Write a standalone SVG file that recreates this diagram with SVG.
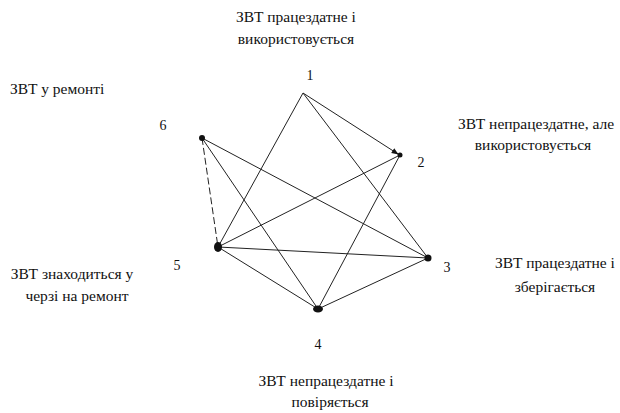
<svg xmlns="http://www.w3.org/2000/svg" width="620" height="413" viewBox="0 0 620 413">
<style>
text{font-family:"Liberation Serif","DejaVu Serif",serif;font-size:15.5px;fill:#111}
.n{font-size:14px}
.e{stroke:#222;stroke-width:1;fill:none}
.d{fill:#111}
</style>
<defs>
<marker id="ah" viewBox="0 0 10 10" refX="9" refY="5" markerWidth="7" markerHeight="7" orient="auto"><path d="M0,1 L10,5 L0,9 Z" fill="#111"/></marker>
</defs>
<rect width="620" height="413" fill="#fff"/>
<g id="connectors">
<line class="e" x1="303" y1="93" x2="398" y2="154" marker-end="url(#ah)"/>
<line class="e" x1="303" y1="93" x2="428" y2="258"/>
<line class="e" x1="303" y1="93" x2="218" y2="247"/>
<line class="e" x1="400" y1="155" x2="218" y2="247"/>
<line class="e" x1="400" y1="155" x2="318" y2="309"/>
<line class="e" x1="202" y1="138" x2="428" y2="258"/>
<line class="e" x1="202" y1="138" x2="318" y2="309"/>
<line class="e" x1="202" y1="138" x2="218" y2="247" stroke-dasharray="7,3"/>
<line class="e" x1="218" y1="247" x2="428" y2="258" stroke-width="1.6"/>
<line class="e" x1="218" y1="247" x2="318" y2="309"/>
<line class="e" x1="318" y1="309" x2="428" y2="258"/>
</g>
<g id="node1">
<text class="n" x="310" y="80" text-anchor="middle">1</text>
<text x="296" y="22" text-anchor="middle">ЗВТ працездатне і</text>
<text x="296" y="44" text-anchor="middle">використовується</text>
</g>
<g id="node2">
<circle class="d" cx="400" cy="155" r="2.5"/>
<text class="n" x="421" y="167" text-anchor="middle">2</text>
<text x="536" y="129" text-anchor="middle">ЗВТ непрацездатне, але</text>
<text x="533" y="150" text-anchor="middle">використовується</text>
</g>
<g id="node3">
<circle class="d" cx="428" cy="258" r="3.5"/>
<text class="n" x="447" y="272" text-anchor="middle">3</text>
<text x="555" y="268" text-anchor="middle">ЗВТ працездатне і</text>
<text x="555" y="292" text-anchor="middle">зберігається</text>
</g>
<g id="node4">
<ellipse class="d" cx="318" cy="309" rx="5" ry="3.5"/>
<text class="n" x="318" y="349" text-anchor="middle">4</text>
<text x="326" y="386" text-anchor="middle">ЗВТ непрацездатне і</text>
<text x="330" y="407" text-anchor="middle">повіряється</text>
</g>
<g id="node5">
<ellipse class="d" cx="218" cy="247" rx="4" ry="5"/>
<text class="n" x="177" y="270" text-anchor="middle">5</text>
<text x="72" y="279" text-anchor="middle">ЗВТ знаходиться у</text>
<text x="77" y="301" text-anchor="middle">черзі на ремонт</text>
</g>
<g id="node6">
<circle class="d" cx="202" cy="138" r="3"/>
<text class="n" x="163" y="130" text-anchor="middle">6</text>
<text x="10" y="94">ЗВТ у ремонті</text>
</g>
</svg>
